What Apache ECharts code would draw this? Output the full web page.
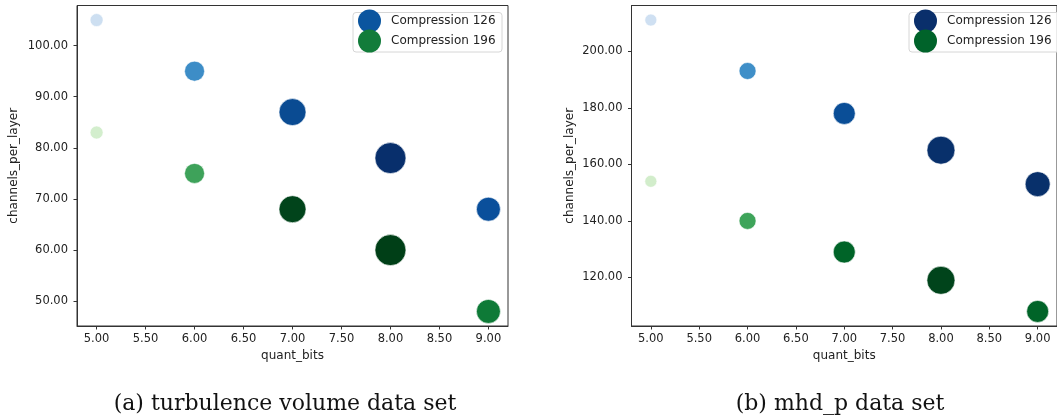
<!DOCTYPE html>
<html>
<head>
<meta charset="utf-8">
<script src="https://cdn.jsdelivr.net/npm/echarts@6/dist/echarts.min.js"></script>
<style>
html,body{margin:0;padding:0;background:#fff;}
#chart{width:1057px;height:420px;}
</style>
</head>
<body>
<div id="chart"></div>
<script>
// ---- data ----
const quantBits = [5, 6, 7, 8, 9];
const turbC126 = [105, 95, 87, 78, 68];
const turbC196 = [83, 75, 68, 60, 48];
const mhdC126 = [211, 193, 178, 165, 153];
const mhdC196 = [154, 140, 129, 119, 108];
const seriesNames = ['Compression 126', 'Compression 196'];
const captions = ['(a) turbulence volume data set', '(b) mhd_p data set'];
const xTicks = [5, 5.5, 6, 6.5, 7, 7.5, 8, 8.5, 9];
const turbYTicks = [50, 60, 70, 80, 90, 100];
const mhdYTicks = [120, 140, 160, 180, 200];

// ---- styles ----
const turbSize126 = [13, 20, 27, 31, 24];
const turbSize196 = [13, 20, 27, 31, 24];
const mhdSize126 = [12, 17, 22, 28, 25];
const mhdSize196 = [12, 17, 22, 28, 22];
const turbColor126 = ['#cddff1', '#3d8dc7', '#0a4b92', '#082f6c', '#0a4f9b'];
const turbColor196 = ['#d3eecd', '#3ea25a', '#01441b', '#003f17', '#0e7a37'];
const mhdColor126 = ['#cfe0f2', '#3f8fc8', '#0a4e97', '#08306b', '#08306b'];
const mhdColor196 = ['#d2edcb', '#3ea45a', '#006428', '#00441b', '#006428'];
const turbLegendColors = ['#0b559f', '#127c3a'];
const mhdLegendColors = ['#0a2f6b', '#00632a'];

const axisColor = '#333';
const textColor = '#222';
const tickFont = 11.5;

function pts(ys, sizes, colors) {
  return quantBits.map((x, i) => ({
    value: [x, ys[i]],
    symbolSize: sizes[i],
    itemStyle: { color: colors[i] }
  }));
}

function xAxisCfg(gi) {
  return {
    type: 'value', gridIndex: gi, min: 4.8, max: 9.2,
    name: 'quant_bits', nameLocation: 'middle', nameGap: 24,
    nameTextStyle: { fontFamily: 'DejaVu Sans', fontSize: 12, color: textColor },
    axisLine: { show: true, onZero: false, lineStyle: { color: axisColor, width: 1 } },
    axisTick: { show: true, inside: false, length: 3.5, customValues: xTicks, lineStyle: { color: axisColor } },
    axisLabel: { show: true, margin: 7, customValues: xTicks, fontFamily: 'DejaVu Sans', fontSize: tickFont, color: textColor,
      formatter: v => v.toFixed(2) },
    splitLine: { show: false }
  };
}
function yAxisCfg(gi, min, max, ticks, gap) {
  return {
    type: 'value', gridIndex: gi, min: min, max: max,
    name: 'channels_per_layer', nameLocation: 'middle', nameGap: gap,
    nameTextStyle: { fontFamily: 'DejaVu Sans', fontSize: 12, color: textColor },
    axisLine: { show: true, onZero: false, lineStyle: { color: axisColor, width: 1 } },
    axisTick: { show: true, inside: false, length: 3.5, customValues: ticks, lineStyle: { color: axisColor } },
    axisLabel: { show: true, margin: 9, customValues: ticks, fontFamily: 'DejaVu Sans', fontSize: tickFont, color: textColor,
      formatter: v => v.toFixed(2) },
    splitLine: { show: false }
  };
}
function legendCfg(left, colors) {
  return {
    orient: 'vertical', left: left, top: 9.5, padding: 0,
    itemWidth: 23, itemHeight: 23, itemGap: -3,
    icon: 'circle', selectedMode: false,
    textStyle: { fontFamily: 'DejaVu Sans', fontSize: 12, color: textColor, padding: [0, 0, 0, 5] },
    data: seriesNames.map((n, i) => ({ name: n, itemStyle: { color: colors[i], borderWidth: 0 } }))
  };
}
function legendBox(x, w) {
  return {
    type: 'rect', z: 3, shape: { x: x, y: 12.5, width: w, height: 39.5, r: 3 },
    style: { fill: 'rgba(255,255,255,0.8)', stroke: '#d6d6d6', lineWidth: 1 }
  };
}
function scatter(name, gi, data, color) {
  return {
    type: 'scatter', name: name, xAxisIndex: gi, yAxisIndex: gi,
    symbol: 'circle', data: data,
    itemStyle: { color: color, borderColor: '#ffffff', borderWidth: 0.6, opacity: 1 },
    emphasis: { disabled: true }
  };
}

const chart = echarts.init(document.getElementById('chart'), null, { renderer: 'canvas' });
chart.setOption({
  animation: false,
  backgroundColor: '#ffffff',
  grid: [
    { left: 77, top: 5.5, width: 431, height: 320.5, show: true, borderColor: axisColor, borderWidth: 1, backgroundColor: 'transparent' },
    { left: 631.5, top: 5.5, width: 431, height: 320.5, show: true, borderColor: axisColor, borderWidth: 1, backgroundColor: 'transparent' }
  ],
  xAxis: [xAxisCfg(0), xAxisCfg(1)],
  yAxis: [
    yAxisCfg(0, 45.15, 107.85, turbYTicks, 57),
    yAxisCfg(1, 102.85, 216.15, mhdYTicks, 56)
  ],
  legend: [legendCfg(358, turbLegendColors), legendCfg(914, mhdLegendColors)],
  graphic: [
    legendBox(353, 149), legendBox(909, 152),
    { type: 'text', x: 285, y: 404, z: 5,
      style: { text: captions[0], align: 'center', verticalAlign: 'middle', fontFamily: 'DejaVu Serif', fontSize: 22, fill: '#111' } },
    { type: 'text', x: 840, y: 404, z: 5,
      style: { text: captions[1], align: 'center', verticalAlign: 'middle', fontFamily: 'DejaVu Serif', fontSize: 22, fill: '#111' } }
  ],
  series: [
    scatter(seriesNames[0], 0, pts(turbC126, turbSize126, turbColor126), turbLegendColors[0]),
    scatter(seriesNames[1], 0, pts(turbC196, turbSize196, turbColor196), turbLegendColors[1]),
    scatter(seriesNames[0], 1, pts(mhdC126, mhdSize126, mhdColor126), mhdLegendColors[0]),
    scatter(seriesNames[1], 1, pts(mhdC196, mhdSize196, mhdColor196), mhdLegendColors[1])
  ]
});
</script>
</body>
</html>
